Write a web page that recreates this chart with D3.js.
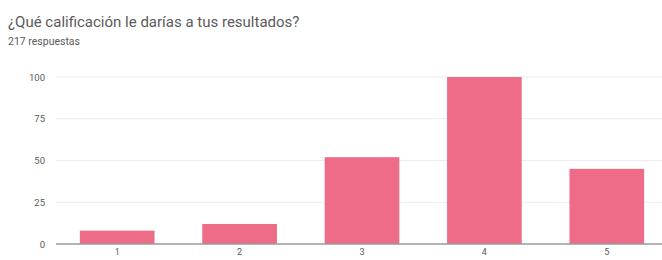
<!DOCTYPE html>
<html>
<head>
<meta charset="utf-8">
<script src="https://cdn.jsdelivr.net/npm/d3@7"></script>
<style>
  body { margin: 0; background: #fff; }
  text { font-family: Roboto, sans-serif; }
</style>
</head>
<body>
<div id="chart"></div>
<script>
const categories = ['1', '2', '3', '4', '5'];
const counts = [8, 12, 52, 100, 45];
const yTicks = [0, 25, 50, 75, 100];
const title = '¿Qué calificación le darías a tus resultados?';
const subtitle = '217 respuestas';

const width = 662, height = 260;
const margin = { top: 77, right: -6, bottom: 16, left: 56 };

const svg = d3.select('#chart').append('svg')
  .attr('width', width)
  .attr('height', height);

svg.append('text')
  .attr('x', 8).attr('y', 27)
  .attr('font-size', 15).attr('fill', '#5a5a5a')
  .text(title);

svg.append('text')
  .attr('x', 8).attr('y', 45)
  .attr('font-size', 10.5).attr('fill', '#5a5a5a')
  .text(subtitle);

const x = d3.scaleBand()
  .domain(categories)
  .range([margin.left, width - margin.right])
  .paddingInner(0.39)
  .paddingOuter(0.195);

const y = d3.scaleLinear()
  .domain([0, 100])
  .range([height - margin.bottom, margin.top]);

// gridlines
svg.append('g')
  .selectAll('line')
  .data(yTicks.slice(1))
  .enter().append('line')
  .attr('x1', margin.left).attr('x2', width)
  .attr('y1', d => y(d)).attr('y2', d => y(d))
  .attr('stroke', '#ececec');

const yAxis = svg.append('g')
  .attr('transform', `translate(${margin.left},0)`)
  .call(d3.axisLeft(y).tickValues(yTicks).tickSize(0).tickPadding(11))
  .call(g => g.select('.domain').remove());
yAxis.selectAll('text').attr('font-size', 9.5).attr('fill', '#5a5a5a').attr('font-family', 'Roboto, sans-serif');

svg.append('g')
  .selectAll('rect')
  .data(counts)
  .enter().append('rect')
  .attr('x', (d, i) => x(categories[i]))
  .attr('y', d => y(d))
  .attr('width', x.bandwidth())
  .attr('height', d => y(0) - y(d))
  .attr('fill', '#ef6c89');

const xAxis = svg.append('g')
  .attr('transform', `translate(0,${y(0)})`)
  .call(d3.axisBottom(x).tickSize(0).tickPadding(5))
  .call(g => g.select('.domain').attr('stroke', '#9a9a9a').attr('stroke-width', 1.3)
    .attr('d', `M${margin.left},0H${width}`));
xAxis.selectAll('text').attr('font-size', 9).attr('fill', '#5a5a5a').attr('font-family', 'Roboto, sans-serif');
</script>
</body>
</html>
